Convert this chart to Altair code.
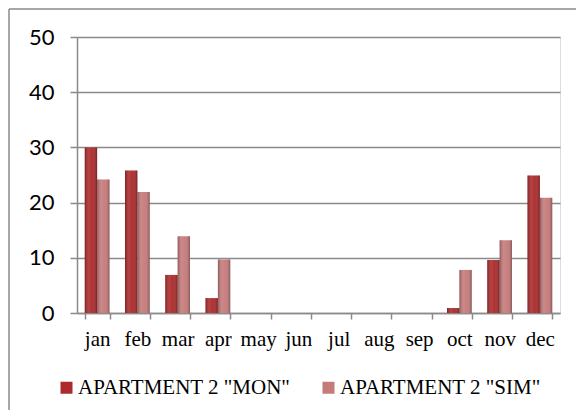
import altair as alt
import pandas as pd

months = ["jan", "feb", "mar", "apr", "may", "jun", "jul", "aug", "sep", "oct", "nov", "dec"]
mon = [30, 25.8, 6.9, 2.7, 0, 0, 0, 0, 0, 0.9, 9.6, 24.9]
sim = [24.2, 21.9, 13.9, 9.7, 0, 0, 0, 0, 0, 7.8, 13.2, 20.9]
series = ['APARTMENT 2 "MON"', 'APARTMENT 2 "SIM"']
colors = ["#AC2B2C", "#C67B7B"]
yticks = [0, 10, 20, 30, 40, 50]

rows = []
for i, m in enumerate(months):
    rows.append({"month": m, "series": series[0], "value": mon[i]})
    rows.append({"month": m, "series": series[1], "value": sim[i]})
df = pd.DataFrame(rows)

grey = "#8A8A8A"
serif = "Liberation Serif"

x = alt.X("month:N", sort=months, title=None,
          scale=alt.Scale(paddingInner=0.385, paddingOuter=0.1925),
          axis=alt.Axis(labelAngle=0, labelFont=serif, labelFontSize=21,
                        labelColor="#000", labelPadding=9, ticks=True, tickBand="extent",
                        tickSize=6, tickColor=grey, tickWidth=1.5, domainColor=grey,
                        domainWidth=1.5, grid=False))
xo = alt.XOffset("series:N", sort=series, scale=alt.Scale(paddingInner=0, paddingOuter=0))
y = alt.Y("value:Q", title=None,
          scale=alt.Scale(domain=[0, 50], nice=False),
          axis=alt.Axis(values=yticks, labelFont="Lato", labelFontSize=22,
                        labelColor="#000", labelPadding=16, tickSize=7, tickColor=grey,
                        tickWidth=1.5, domainColor=grey, domainWidth=1.5,
                        gridColor=grey, gridWidth=1.5))

bars = alt.Chart(df).mark_bar().encode(
    x=x, xOffset=xo, y=y,
    color=alt.Color("series:N", sort=series,
                    scale=alt.Scale(domain=series, range=colors),
                    legend=alt.Legend(title=None, orient="none", direction="horizontal",
                                      legendX=-21, legendY=340, symbolType="square",
                                      symbolSize=144, labelFont=serif,
                                      labelFontSize=21, labelColor="#000", labelLimit=400,
                                      columnPadding=27, labelOffset=1,
                                      symbolStrokeWidth=0))
)

shade = alt.Chart(df).mark_bar(
    fill=alt.Gradient(gradient="linear", x1=0, x2=1, y1=0, y2=0,
                      stops=[alt.GradientStop(color="rgba(0,0,0,0.28)", offset=0),
                             alt.GradientStop(color="rgba(255,255,255,0.10)", offset=0.35),
                             alt.GradientStop(color="rgba(255,255,255,0.03)", offset=0.6),
                             alt.GradientStop(color="rgba(0,0,0,0.3)", offset=1)])
).encode(x=x, xOffset=xo, y=y)

# outer chart frame (left and top edges visible in the reference)
frame_left = alt.Chart().mark_rule(color=grey, strokeWidth=1.5).encode(
    x=alt.value(-68), y=alt.value(-28), y2=alt.value(400))
frame_top = alt.Chart().mark_rule(color=grey, strokeWidth=1.5).encode(
    x=alt.value(-68), x2=alt.value(520), y=alt.value(-28))

chart = alt.layer(bars, shade, frame_left, frame_top).properties(
    width=483, height=276,
    autosize=alt.AutoSizeParams(type="none"),
    padding={"top": 29, "left": 69, "right": 16, "bottom": 97},
).configure_view(stroke=None).configure_legend(
    labelFont=serif, labelFontSize=21, labelLimit=400
).configure(background="white")

chart.save("out.html", embed_options={"renderer": "svg", "actions": False})
